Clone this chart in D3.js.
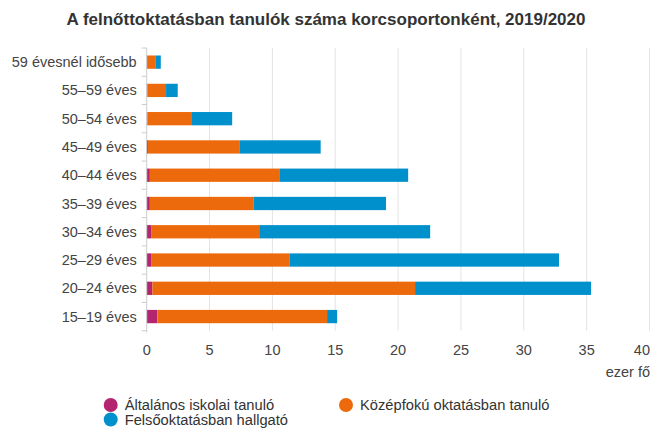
<!DOCTYPE html>
<html>
<head>
<meta charset="utf-8">
<script src="https://cdn.jsdelivr.net/npm/d3@7"></script>
<style>
    body { margin: 0; background: #fff; }
    text { font-family: "Liberation Sans", Arial, sans-serif; }
</style>
</head>
<body>
<svg id="chart" width="651" height="428"></svg>
<script>
// age groups, top to bottom
const categories = ['59 évesnél idősebb', '55–59 éves', '50–54 éves', '45–49 éves', '40–44 éves',
    '35–39 éves', '30–34 éves', '25–29 éves', '20–24 éves', '15–19 éves'];
// thousand people
const primary   = [0.02, 0.04, 0.05, 0.1, 0.25, 0.25, 0.35, 0.35, 0.45, 0.85];
const secondary = [0.67, 1.5, 3.55, 7.27, 10.35, 8.24, 8.6, 11.0, 20.9, 13.5];
const higher    = [0.43, 0.93, 3.2, 6.47, 10.2, 10.55, 13.6, 21.45, 14.0, 0.8];
const seriesNames = ['Általános iskolai tanuló', 'Középfokú oktatásban tanuló', 'Felsőoktatásban hallgató'];
const xTicks = [0, 5, 10, 15, 20, 25, 30, 35, 40];

const colors = ['#b3256f', '#ec690c', '#0090cc'];

const svg = d3.select('#chart');
const margin = {left: 146.7, right: 1.5, top: 48, bottom: 97.3};
const width = 651, height = 428;
const fs = 14.5;

const x = d3.scaleLinear()
    .domain([0, 40])
    .range([margin.left, width - margin.right]);

const y = d3.scaleBand()
    .domain(categories)
    .range([margin.top, height - margin.bottom])
    .paddingInner(0.53)
    .paddingOuter(0.265);

svg.append('text')
    .attr('x', 326)
    .attr('y', 25)
    .attr('text-anchor', 'middle')
    .attr('font-size', 17)
    .attr('font-weight', 'bold')
    .attr('fill', '#333')
    .text('A felnőttoktatásban tanulók száma korcsoportonként, 2019/2020');

// grid
svg.append('g')
    .selectAll('line')
    .data(xTicks.slice(1))
    .join('line')
    .attr('x1', d => x(d))
    .attr('x2', d => x(d))
    .attr('y1', margin.top)
    .attr('y2', height - margin.bottom)
    .attr('stroke', '#e3e3e3')
    .attr('stroke-width', 1);

// stacked bars
const table = categories.map((c, i) => ({cat: c, p: primary[i], s: secondary[i], h: higher[i]}));
const stacked = d3.stack().keys(['p', 's', 'h'])(table);

svg.append('g')
    .selectAll('g')
    .data(stacked)
    .join('g')
    .attr('fill', (d, i) => colors[i])
    .selectAll('rect')
    .data(d => d)
    .join('rect')
    .attr('x', d => x(d[0]))
    .attr('y', d => y(d.data.cat))
    .attr('width', d => x(d[1]) - x(d[0]))
    .attr('height', y.bandwidth());

// y axis
const yAxis = svg.append('g')
    .attr('transform', `translate(${margin.left},0)`);
yAxis.append('line')
    .attr('x1', 0).attr('x2', 0)
    .attr('y1', margin.top).attr('y2', height - margin.bottom + 2)
    .attr('stroke', '#ccc');
const bounds = categories.map(c => y(c) - y.step() * y.paddingInner() / 2);
bounds.push(height - margin.bottom);
yAxis.selectAll('.tk')
    .data(bounds)
    .join('line')
    .attr('class', 'tk')
    .attr('x1', -5).attr('x2', 0)
    .attr('y1', d => d).attr('y2', d => d)
    .attr('stroke', '#ccc');
yAxis.selectAll('text')
    .data(categories)
    .join('text')
    .attr('x', -10)
    .attr('y', d => y(d) + y.bandwidth() / 2)
    .attr('dy', '0.35em')
    .attr('text-anchor', 'end')
    .attr('font-size', fs)
    .attr('fill', '#444')
    .text(d => d);

// x labels
svg.append('g')
    .selectAll('text')
    .data(xTicks)
    .join('text')
    .attr('x', d => d === 40 ? width - 1 : x(d))
    .attr('y', 355)
    .attr('text-anchor', d => d === 40 ? 'end' : 'middle')
    .attr('font-size', fs)
    .attr('fill', '#444')
    .text(d => d);

svg.append('text')
    .attr('x', 650)
    .attr('y', 377)
    .attr('text-anchor', 'end')
    .attr('font-size', fs)
    .attr('fill', '#444')
    .text('ezer fő');

// legend
const legendPos = [[110.7, 405], [346, 405], [110.7, 419.5]];
const legend = svg.append('g')
    .selectAll('g')
    .data(seriesNames)
    .join('g')
    .attr('transform', (d, i) => `translate(${legendPos[i][0]},${legendPos[i][1]})`);
legend.append('circle')
    .attr('r', 7)
    .attr('fill', (d, i) => colors[i]);
legend.append('text')
    .attr('x', 14)
    .attr('dy', '0.35em')
    .attr('font-size', 14.7)
    .attr('fill', '#333')
    .text(d => d);
</script>
</body>
</html>
